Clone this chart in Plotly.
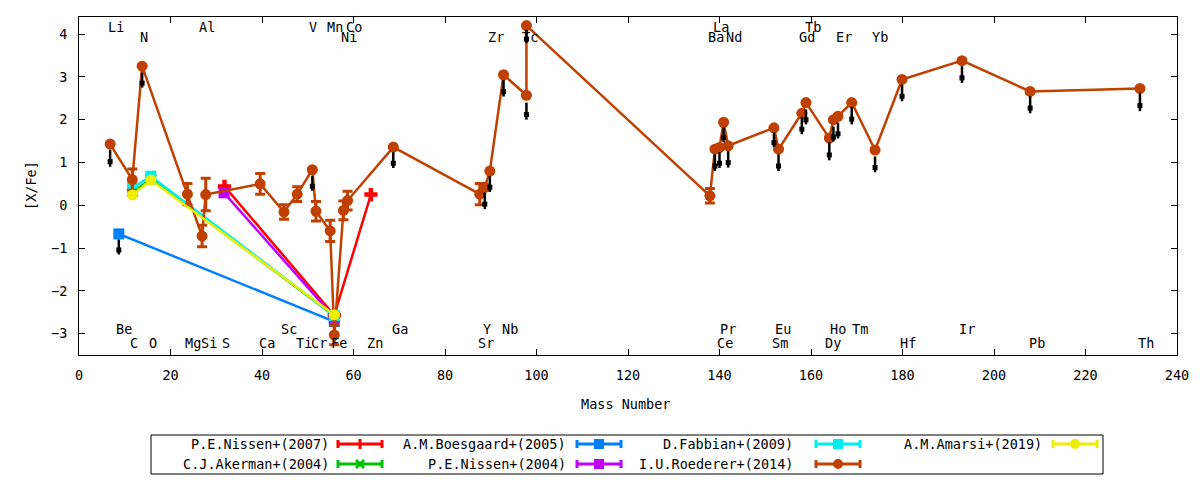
import plotly.graph_objects as go

FONT = "DejaVu Sans Mono"

# --- data ---
series_names = ["P.E.Nissen+(2007)", "C.J.Akerman+(2004)", "A.M.Boesgaard+(2005)",
                "P.E.Nissen+(2004)", "D.Fabbian+(2009)", "I.U.Roederer+(2014)",
                "A.M.Amarsi+(2019)"]
series_colors = ["#ff0000", "#00c000", "#0080ff", "#c000ff", "#00eeee", "#c04000", "#eeee00"]
series_symbols = ["cross", "x", "square", "square", "square", "circle", "circle"]

nissen07_x = [31.8, 55.8, 63.8]
nissen07_y = [0.44, -2.57, 0.25]

akerman04_x = [11.7, 15.7, 55.8]
akerman04_y = [0.30, 0.62, -2.58]

boesgaard05_x = [8.7, 55.8]
boesgaard05_y = [-0.67, -2.72]

nissen04_x = [31.7, 55.8]
nissen04_y = [0.29, -2.62]

fabbian09_x = [11.7, 15.7, 55.8]
fabbian09_y = [0.40, 0.68, -2.58]

roederer14_x = [6.8, 11.65, 13.8, 23.7, 26.9, 27.7, 39.6, 44.8, 47.7, 51.0, 51.8,
                54.9, 55.8, 57.8, 58.7, 68.7, 87.6, 88.7, 89.8, 92.8, 97.8, 97.8,
                137.9, 139.0, 140.0, 140.9, 141.9, 151.9, 152.9, 158.0, 158.9,
                164.0, 164.9, 165.9, 168.9, 174.0, 179.9, 193.0, 207.9, 231.9]
roederer14_y = [1.43, 0.60, 3.25, 0.26, -0.72, 0.25, 0.50, -0.16, 0.26, 0.83, -0.14,
                -0.60, -3.03, -0.12, 0.11, 1.36, 0.26, 0.42, 0.80, 3.05, 2.57, 4.20,
                0.22, 1.31, 1.35, 1.94, 1.39, 1.81, 1.31, 2.15, 2.40,
                1.57, 2.00, 2.08, 2.40, 1.29, 2.94, 3.38, 2.66, 2.73]
roederer14_err = [0, 0.25, 0, 0.25, 0.25, 0.38, 0.24, 0.17, 0.17, 0, 0.23,
                  0.25, 0.23, 0.22, 0.22, 0, 0.25, 0, 0, 0, 0, 0,
                  0.17, 0, 0, 0, 0, 0, 0, 0, 0,
                  0, 0, 0, 0, 0, 0, 0, 0, 0]

amarsi19_x = [11.7, 15.7, 55.8]
amarsi19_y = [0.24, 0.59, -2.56]

# black downward marks (upper limits)
limit_x = [6.8, 8.7, 13.8, 51.0, 68.7, 88.7, 89.8, 92.8, 97.8, 97.8,
           139.0, 140.0, 140.9, 141.9, 151.9, 152.9, 158.0, 158.9, 164.0,
           164.9, 165.9, 168.9, 174.0, 179.9, 193.0, 207.9, 231.9]
limit_top = [1.30, -0.80, 3.10, 0.68, 1.24, 0.30, 0.68, 2.93, 2.40, 4.10,
             1.19, 1.24, 1.82, 1.27, 1.70, 1.19, 2.06, 2.24, 1.47,
             1.84, 1.93, 2.30, 1.14, 2.82, 3.25, 2.55, 2.63]
limit_bottom = [0.90, -1.15, 2.75, 0.34, 0.87, -0.09, 0.31, 2.54, 2.00, 3.79,
                0.80, 0.87, 1.47, 0.88, 1.36, 0.80, 1.66, 1.89, 1.05,
                1.49, 1.56, 1.89, 0.77, 2.43, 2.86, 2.15, 2.20]

# element labels: name, mass-number position, row (0,1 top; 2,3 bottom)
elem_names = ["Li", "Al", "V", "Mn", "Co", "La", "Tb",
              "N", "Ni", "Zr", "Tc", "Ba", "Nd", "Gd", "Er", "Yb",
              "Be", "Sc", "Ga", "Y", "Nb", "Pr", "Eu", "Ho", "Tm", "Ir",
              "C", "O", "Mg", "Si", "S", "Ca", "Ti", "Cr", "Fe", "Zn", "Sr",
              "Ce", "Sm", "Dy", "Hf", "Pb", "Th"]
elem_x = [8.1, 27.9, 51.2, 56.0, 60.0, 140.3, 160.4,
          14.2, 59.1, 91.1, 98.6, 139.2, 143.2, 159.1, 167.2, 175.1,
          9.8, 46.0, 70.2, 89.2, 94.2, 141.9, 153.9, 166.0, 170.6, 194.0,
          12.1, 16.1, 25.0, 28.4, 32.1, 41.0, 49.2, 52.4, 56.8, 64.7, 89.0,
          141.2, 153.2, 164.9, 181.3, 209.3, 233.2]
elem_row = [0] * 7 + [1] * 9 + [2] * 10 + [3] * 17
row_y = [4.17, 3.94, -2.90, -3.23]

series_x = [nissen07_x, akerman04_x, boesgaard05_x, nissen04_x, fabbian09_x,
            roederer14_x, amarsi19_x]
series_y = [nissen07_y, akerman04_y, boesgaard05_y, nissen04_y, fabbian09_y,
            roederer14_y, amarsi19_y]

fig = go.Figure()

for i, name in enumerate(series_names):
    err = None
    if name.startswith("I.U.Roederer"):
        err = dict(type="data", array=roederer14_err, color=series_colors[i],
                   thickness=3, width=5)
    fig.add_trace(go.Scatter(
        x=series_x[i], y=series_y[i], mode="lines+markers", name=name,
        line=dict(color=series_colors[i], width=2.5),
        marker=dict(symbol=series_symbols[i], size=11, color=series_colors[i]),
        error_y=err, showlegend=False))
    if name.startswith("I.U.Roederer"):
        # upper-limit marks drawn right after this series
        lx, ly, mx, my = [], [], [], []
        for x, t, b in zip(limit_x, limit_top, limit_bottom):
            lx += [x, x, None]
            ly += [t, b, None]
            mx.append(x)
            my.append(t - 0.7 * (t - b))
        fig.add_trace(go.Scatter(x=lx, y=ly, mode="lines",
                                 line=dict(color="black", width=2.5),
                                 showlegend=False, hoverinfo="skip"))
        fig.add_trace(go.Scatter(x=mx, y=my, mode="markers",
                                 marker=dict(symbol="square", size=5, color="black"),
                                 showlegend=False, hoverinfo="skip"))

annotations = []
for n, x, r in zip(elem_names, elem_x, elem_row):
    annotations.append(dict(x=x, y=row_y[r], xref="x", yref="y", text=n,
                            yanchor="middle", showarrow=False,
                            font=dict(family=FONT, size=13.5, color="black")))

# plot area in pixels: left 79, right 1177, top 17, bottom 355
def px(v):
    return (v - 79) / 1098.0

def py(v):
    return (355 - v) / 338.0

annotations.append(dict(x=px(625), y=py(404), xref="paper", yref="paper", text="Mass Number",
                        yanchor="middle", showarrow=False,
                        font=dict(family=FONT, size=13.5, color="black")))
annotations.append(dict(x=px(31), y=py(186), xref="paper", yref="paper", text="[X/Fe]",
                        textangle=-90, xanchor="center", yanchor="middle", showarrow=False,
                        font=dict(family=FONT, size=13.5, color="black")))

shapes = [dict(type="rect", xref="paper", yref="paper", x0=px(151), x1=px(1103),
               y0=py(435), y1=py(474), line=dict(color="black", width=1))]

col_text = [331, 568, 795, 1044]
col_sample = [338, 577, 816, 1053]
row_pix = [444, 464]
for i, name in enumerate(series_names):
    c, r = i // 2, i % 2
    yy = py(row_pix[r])
    col = series_colors[i]
    annotations.append(dict(x=px(col_text[c]), y=yy, xref="paper", yref="paper", text=name,
                            xanchor="right", yanchor="middle", showarrow=False,
                            font=dict(family=FONT, size=13.5, color="black")))
    x0, x1 = col_sample[c], col_sample[c] + 44
    shapes.append(dict(type="line", xref="paper", yref="paper", x0=px(x0), x1=px(x1),
                       y0=yy, y1=yy, line=dict(color=col, width=3)))
    for xe in (x0, x1):
        shapes.append(dict(type="line", xref="paper", yref="paper", x0=px(xe), x1=px(xe),
                           y0=py(row_pix[r] - 4), y1=py(row_pix[r] + 4),
                           line=dict(color=col, width=3)))
    xm = px((x0 + x1) / 2)
    base = dict(xref="paper", yref="paper", xsizemode="pixel", ysizemode="pixel",
                xanchor=xm, yanchor=yy)
    sym = series_symbols[i]
    if sym == "circle":
        shapes.append(dict(base, type="circle", x0=-5, x1=5, y0=-5, y1=5,
                           fillcolor=col, line=dict(color=col, width=0)))
    elif sym == "square":
        shapes.append(dict(base, type="rect", x0=-5, x1=5, y0=-5, y1=5,
                           fillcolor=col, line=dict(color=col, width=0)))
    elif sym == "cross":
        shapes.append(dict(base, type="rect", x0=-1.5, x1=1.5, y0=-5, y1=5,
                           fillcolor=col, line=dict(color=col, width=0)))
    else:
        shapes.append(dict(base, type="line", x0=-4, x1=4, y0=-4, y1=4,
                           line=dict(color=col, width=3)))
        shapes.append(dict(base, type="line", x0=-4, x1=4, y0=4, y1=-4,
                           line=dict(color=col, width=3)))

axis_common = dict(showline=True, linecolor="black", linewidth=1, mirror="allticks",
                   ticks="inside", ticklen=6, tickcolor="black", showgrid=False,
                   zeroline=False, ticklabelstandoff=8,
                   tickfont=dict(family=FONT, size=13.5, color="black"))

fig.update_layout(
    width=1200, height=480,
    margin=dict(l=79, r=23, t=17, b=125),
    plot_bgcolor="white", paper_bgcolor="white",
    xaxis=dict(axis_common, range=[0, 240], tick0=0, dtick=20),
    yaxis=dict(axis_common, range=[-3.5, 4.4], tick0=-3, dtick=1),
    annotations=annotations, shapes=shapes, showlegend=False)

fig.write_html("out.html", config={"displayModeBar": False},
               post_script="document.body.style.margin='0px';")
